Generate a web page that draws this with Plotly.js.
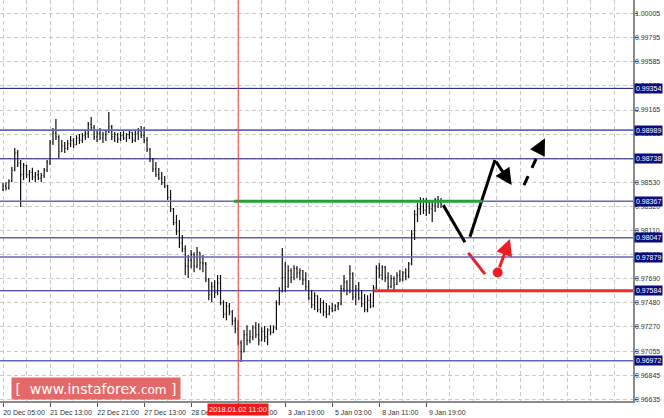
<!DOCTYPE html>
<html>
<head>
<meta charset="utf-8">
<script src="https://cdn.plot.ly/plotly-3.0.1.min.js"></script>
<style>html,body{margin:0;padding:0;background:#fff;}#chart{width:664px;height:418px;}</style>
</head>
<body>
<div id="chart"></div>
<script>
// ---- data (bar index -> OHLC) ----
const barOpen = [
0.98470,0.98500,0.98480,0.98545,0.98640,0.98790,0.98700,0.98600,0.98680,0.98600,
0.98620,0.98580,0.98600,0.98570,0.98590,0.98640,0.98710,0.98880,0.98960,0.98930,
0.98800,0.98850,0.98830,0.98870,0.98900,0.98860,0.98920,0.98900,0.98940,0.98960,
0.99040,0.99010,0.98930,0.98960,0.98920,0.98950,0.98980,0.99020,0.98930,0.98950,
0.98910,0.98940,0.98920,0.98950,0.98970,0.98900,0.98960,0.98980,0.98940,0.98900,
0.98820,0.98730,0.98650,0.98600,0.98570,0.98530,0.98500,0.98400,0.98300,0.98180,
0.98100,0.98000,0.97950,0.97800,0.97850,0.97900,0.97800,0.97920,0.97830,0.97820,
0.97680,0.97550,0.97620,0.97570,0.97650,0.97480,0.97380,0.97450,0.97400,0.97320,
0.97250,0.97130,0.97050,0.97200,0.97150,0.97180,0.97260,0.97200,0.97150,0.97230,
0.97180,0.97240,0.97220,0.97260,0.97480,0.97580,0.97700,0.97620,0.97760,0.97700,
0.97780,0.97740,0.97760,0.97680,0.97620,0.97520,0.97460,0.97540,0.97420,0.97480,
0.97400,0.97380,0.97430,0.97410,0.97450,0.97470,0.97600,0.97660,0.97590,0.97730,
0.97530,0.97600,0.97520,0.97470,0.97420,0.97500,0.97450,0.97610,0.97780,0.97720,
0.97790,0.97700,0.97620,0.97690,0.97640,0.97720,0.97680,0.97740,0.97710,0.97820,
0.98080,0.98250,0.98300,0.98370,0.98290,0.98360,0.98300,0.98330,0.98380,0.98360];
const barHigh = [
0.98526,0.98535,0.98560,0.98666,0.98832,0.98815,0.98727,0.98701,0.98683,0.98640,
0.98660,0.98622,0.98640,0.98613,0.98657,0.98727,0.98902,0.99007,0.99086,0.98945,
0.98902,0.98885,0.98902,0.98937,0.98920,0.98945,0.98955,0.98963,0.98990,0.99060,
0.99103,0.99033,0.98990,0.99007,0.98972,0.98990,0.99147,0.99033,0.98972,0.98963,
0.98972,0.98980,0.98963,0.98990,0.98972,0.98990,0.99007,0.99025,0.99016,0.98928,
0.98832,0.98745,0.98710,0.98657,0.98622,0.98587,0.98508,0.98465,0.98307,0.98246,
0.98202,0.98071,0.97983,0.97896,0.97940,0.97922,0.97966,0.97922,0.97896,0.97835,
0.97695,0.97660,0.97677,0.97721,0.97721,0.97502,0.97485,0.97476,0.97415,0.97353,
0.97327,0.97152,0.97240,0.97283,0.97240,0.97283,0.97310,0.97301,0.97266,0.97275,
0.97257,0.97283,0.97283,0.97502,0.97614,0.97957,0.97835,0.97808,0.97782,0.97808,
0.97800,0.97782,0.97765,0.97747,0.97677,0.97590,0.97572,0.97545,0.97520,0.97502,
0.97476,0.97458,0.97476,0.97467,0.97485,0.97634,0.97721,0.97677,0.97808,0.97747,
0.97634,0.97660,0.97590,0.97555,0.97545,0.97563,0.97634,0.97808,0.97826,0.97808,
0.97800,0.97747,0.97721,0.97712,0.97747,0.97765,0.97756,0.97782,0.97835,0.98115,
0.98290,0.98351,0.98403,0.98395,0.98395,0.98377,0.98360,0.98395,0.98412,0.98395];
const barLow = [
0.98456,0.98460,0.98470,0.98535,0.98630,0.98666,0.98316,0.98552,0.98570,0.98535,
0.98552,0.98535,0.98552,0.98535,0.98570,0.98622,0.98683,0.98858,0.98902,0.98745,
0.98797,0.98788,0.98815,0.98841,0.98832,0.98858,0.98867,0.98876,0.98902,0.98920,
0.98990,0.98902,0.98885,0.98902,0.98876,0.98893,0.98963,0.98902,0.98885,0.98876,
0.98893,0.98902,0.98885,0.98911,0.98876,0.98885,0.98902,0.98920,0.98876,0.98797,
0.98710,0.98622,0.98578,0.98552,0.98508,0.98482,0.98377,0.98272,0.98158,0.98071,
0.97957,0.97922,0.97721,0.97695,0.97782,0.97747,0.97782,0.97765,0.97747,0.97660,
0.97502,0.97485,0.97520,0.97545,0.97458,0.97345,0.97327,0.97371,0.97283,0.97213,
0.97108,0.96960,0.97047,0.97108,0.97126,0.97152,0.97170,0.97108,0.97140,0.97135,
0.97108,0.97196,0.97213,0.97240,0.97458,0.97570,0.97572,0.97610,0.97651,0.97677,
0.97695,0.97677,0.97634,0.97590,0.97502,0.97432,0.97415,0.97397,0.97388,0.97362,
0.97345,0.97370,0.97397,0.97406,0.97415,0.97458,0.97572,0.97545,0.97563,0.97502,
0.97458,0.97502,0.97441,0.97397,0.97397,0.97432,0.97440,0.97600,0.97695,0.97677,
0.97660,0.97590,0.97607,0.97590,0.97634,0.97660,0.97668,0.97677,0.97695,0.97808,
0.98027,0.98185,0.98246,0.98255,0.98237,0.98255,0.98185,0.98272,0.98307,0.98307];
const barClose = [
0.98500,0.98480,0.98545,0.98640,0.98790,0.98700,0.98600,0.98680,0.98600,0.98620,
0.98580,0.98600,0.98570,0.98590,0.98640,0.98710,0.98880,0.98960,0.98930,0.98800,
0.98850,0.98830,0.98870,0.98900,0.98860,0.98920,0.98900,0.98940,0.98960,0.99040,
0.99010,0.98930,0.98960,0.98920,0.98950,0.98980,0.99020,0.98930,0.98950,0.98910,
0.98940,0.98920,0.98950,0.98970,0.98900,0.98960,0.98980,0.98940,0.98900,0.98820,
0.98730,0.98650,0.98600,0.98570,0.98530,0.98500,0.98400,0.98300,0.98180,0.98100,
0.98000,0.97950,0.97800,0.97850,0.97900,0.97800,0.97920,0.97830,0.97820,0.97680,
0.97550,0.97620,0.97570,0.97650,0.97480,0.97380,0.97450,0.97400,0.97320,0.97250,
0.97130,0.97050,0.97200,0.97150,0.97180,0.97260,0.97200,0.97150,0.97230,0.97180,
0.97240,0.97220,0.97260,0.97480,0.97580,0.97700,0.97620,0.97760,0.97700,0.97780,
0.97740,0.97760,0.97680,0.97620,0.97520,0.97460,0.97540,0.97420,0.97480,0.97400,
0.97380,0.97430,0.97410,0.97450,0.97470,0.97600,0.97660,0.97590,0.97730,0.97530,
0.97600,0.97520,0.97470,0.97420,0.97500,0.97450,0.97610,0.97780,0.97720,0.97790,
0.97700,0.97620,0.97690,0.97640,0.97720,0.97680,0.97740,0.97710,0.97820,0.98080,
0.98250,0.98300,0.98370,0.98290,0.98360,0.98300,0.98330,0.98380,0.98360,0.98340];
const barIndex = barOpen.map((_, i) => i);

// x axis ticks (bar index) and labels
const xTickIdx = [0, 16, 32, 48, 64, 80, 96, 112, 128, 144];
const xTickLabels = ["20 Dec 05:00","21 Dec 13:00","22 Dec 21:00","27 Dec 13:00","28 Dec 21:00",
                     "2 Jan 11:00","3 Jan 19:00","5 Jan 03:00","8 Jan 11:00","9 Jan 19:00"];
const xRange = [-1.02, 214.3];

// y axis ticks
const yTickVals = [1.00005,0.99795,0.99585,0.99375,0.99165,0.98955,0.98745,0.98530,0.98320,
                   0.98110,0.97900,0.97690,0.97480,0.97270,0.97055,0.96845,0.96635];
const yTickLabels = ["1.00005","0.99795","0.99585","0.99375","0.99165","0.98955","0.98745","0.98530","0.98320",
                     "0.98110","0.97900","0.97690","0.97480","0.97270","0.97055","0.96845","0.96635"];
const yRange = [0.96620, 1.00127];

// horizontal levels
const levelPrices = [0.99354, 0.98989, 0.98738, 0.98367, 0.98047, 0.97879, 0.97584, 0.96972];
const levelLabels = ["0.99354","0.98989","0.98738","0.98367","0.98047","0.97879","0.97584","0.96972"];
const levelTone   = ["dark","light","dark","light","dark","light","dark","light"];

// marked time
const markerIndex = 80;
const markerLabel = "2018.01.02 11:00";

// resistance (green) and support (red) segments
const greenLevel = {price: 0.98367, from: 78.6, to: 163.0};
const redLevel   = {price: 0.97584, from: 126.0};

// forecast paths
const blackDownX = [149.76, 157.14], blackDownY = [0.98333, 0.98008];
const blackUpX   = [158.84, 167.35], blackUpY   = [0.98056, 0.98727];
const blackArrowTail = [167.35, 0.98727], blackArrowHead = [173.03, 0.98508];
const dashedX = [177.21, 181.6], dashedY = [0.98508, 0.98753];
const dashedArrowTail = [182.65, 0.98832], dashedArrowHead = [184.36, 0.98917];
const redDownX = [158.27, 163.95], redDownY = [0.97916, 0.97729];
const redDot = [168.27, 0.97744];
const redArrowTail = [168.71, 0.97777], redArrowHead = [172.45, 0.98037];

const FONT = "Liberation Sans, Arial, sans-serif";
const GRID = "#c9c9c9";

const traces = [
  {type: "ohlc", x: barIndex, open: barOpen, high: barHigh, low: barLow, close: barClose,
   increasing: {line: {color: "#111111", width: 1.2}},
   decreasing: {line: {color: "#111111", width: 1.2}},
   tickwidth: 0.3, hoverinfo: "skip", showlegend: false},
  {type: "scatter", mode: "lines", x: blackDownX, y: blackDownY,
   line: {color: "#000", width: 3}, hoverinfo: "skip", showlegend: false},
  {type: "scatter", mode: "lines", x: blackUpX, y: blackUpY,
   line: {color: "#000", width: 3}, hoverinfo: "skip", showlegend: false},
  {type: "scatter", mode: "lines", x: dashedX, y: dashedY,
   line: {color: "#000", width: 3, dash: "10px,9px"}, hoverinfo: "skip", showlegend: false},
  {type: "scatter", mode: "lines", x: redDownX, y: redDownY,
   line: {color: "#f01c24", width: 3}, hoverinfo: "skip", showlegend: false},
  {type: "scatter", mode: "markers", x: [redDot[0]], y: [redDot[1]],
   marker: {color: "#f01c24", size: 10}, hoverinfo: "skip", showlegend: false}
];

const shapes = [];
levelPrices.forEach((p, i) => {
  const dark = levelTone[i] === "dark";
  shapes.push({type: "line", xref: "paper", x0: 0, x1: 1, yref: "y", y0: p, y1: p,
    line: {color: dark ? "#16167e" : "#6464bc", width: dark ? 1 : 1.6}});
});
shapes.push({type: "line", xref: "x", x0: greenLevel.from, x1: greenLevel.to, yref: "y",
  y0: greenLevel.price, y1: greenLevel.price, line: {color: "#22a23c", width: 3}});
shapes.push({type: "line", xref: "x", x0: redLevel.from, x1: xRange[1], yref: "y",
  y0: redLevel.price, y1: redLevel.price, line: {color: "#ee2a2a", width: 3}});
shapes.push({type: "line", xref: "x", x0: markerIndex, x1: markerIndex, yref: "paper", y0: 0, y1: 1,
  line: {color: "#ff3a3a", width: 1}});

const annotations = [];
levelPrices.forEach((p, i) => {
  annotations.push({xref: "paper", x: 1, xanchor: "left", xshift: 1, yref: "y", y: p,
    yanchor: "middle", text: levelLabels[i], showarrow: false, bgcolor: "#0c0c7c",
    borderpad: 1, font: {family: FONT, size: 7, color: "#ffffff"}});
});
annotations.push({xref: "x", x: markerIndex, xanchor: "center", yref: "paper", y: 0, yanchor: "top",
  yshift: -2, text: markerLabel, showarrow: false, bgcolor: "#f01818", borderpad: 1,
  font: {family: FONT, size: 7.5, color: "#ffffff"}});
function arrow(tail, head, color) {
  return {xref: "x", yref: "y", axref: "x", ayref: "y", x: head[0], y: head[1], ax: tail[0], ay: tail[1],
    text: "", showarrow: true, arrowhead: 2, arrowsize: 1.1, arrowwidth: 3, arrowcolor: color, standoff: 0};
}
annotations.push(arrow(blackArrowTail, blackArrowHead, "#000"));
annotations.push(arrow(dashedArrowTail, dashedArrowHead, "#000"));
annotations.push(arrow(redArrowTail, redArrowHead, "#f01c24"));
// watermark
annotations.push({xref: "paper", yref: "paper", x: 0.1517, xanchor: "center", y: 0.0025, yanchor: "bottom",
  width: 166, height: 19, borderpad: 1, bgcolor: "rgba(226,92,92,0.92)", showarrow: false,
  text: "[\u00a0\u00a0www.instaforex<span style=\"font-size:12px\">.com</span>\u00a0]",
  font: {family: "DejaVu Sans, sans-serif", size: 14, color: "#ffffff"}});

const layout = {
  width: 664, height: 418,
  margin: {l: 0, r: 31, t: 0, b: 17, pad: 0},
  paper_bgcolor: "#ffffff", plot_bgcolor: "#ffffff",
  showlegend: false,
  font: {family: FONT, size: 7.5, color: "#333"},
  xaxis: {
    range: xRange, tickmode: "array", tickvals: xTickIdx, ticktext: xTickLabels,
    ticks: "outside", ticklen: 4, tickcolor: "#555", tickwidth: 1,
    showline: true, linecolor: "#8a8a8a", linewidth: 1.5, zeroline: false,
    showgrid: true, gridcolor: GRID, griddash: "4px,3px", gridwidth: 1,
    minor: {tickmode: "linear", tick0: 0, dtick: 8, showgrid: true, gridcolor: GRID, griddash: "4px,3px", ticklen: 0},
    tickfont: {family: FONT, size: 7, color: "#333"},
    ticklabelshift: 21, ticklabelstandoff: 0, ticklabeloverflow: "allow",
    rangeslider: {visible: false}, fixedrange: true
  },
  yaxis: {
    side: "right", range: yRange, tickmode: "array", tickvals: yTickVals, ticktext: yTickLabels,
    ticks: "outside", ticklen: 3, tickcolor: "#555",
    showline: true, linecolor: "#8a8a8a", linewidth: 1.5, zeroline: false,
    showgrid: true, gridcolor: GRID, griddash: "4px,3px", gridwidth: 1,
    tickfont: {family: FONT, size: 7, color: "#333"}, ticklabelstandoff: -4, ticklabeloverflow: "allow",
    fixedrange: true
  },
  shapes: shapes,
  annotations: annotations
};

Plotly.newPlot("chart", traces, layout, {staticPlot: true, displayModeBar: false});
</script>
</body>
</html>
